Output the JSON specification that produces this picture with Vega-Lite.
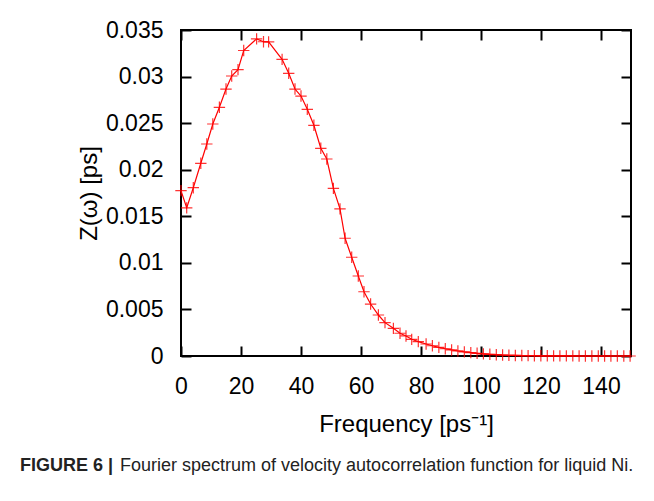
{
  "$schema": "https://vega.github.io/schema/vega-lite/v6.json",
  "width": 450,
  "height": 326,
  "autosize": {"type": "none"},
  "padding": {"left": 181, "top": 30, "right": 23, "bottom": 145},
  "background": "white",
  "config": {
    "view": {"stroke": "black", "strokeWidth": 2},
    "font": "Liberation Sans",
    "axis": {
      "domain": false,
      "grid": false,
      "labelFlush": false,
      "labelOverlap": false,
      "tickColor": "black",
      "tickWidth": 2,
      "tickSize": -10,
      "labelFont": "Liberation Sans",
      "labelFontSize": 23,
      "labelColor": "black",
      "titleFont": "Liberation Sans",
      "titleFontSize": 24,
      "titleFontWeight": "normal",
      "titleColor": "black"
    }
  },
  "title": {
    "text": "FIGURE 6 |",
    "subtitle": "\u200b\u00a0\u00a0\u00a0\u00a0\u00a0\u00a0\u00a0\u00a0\u00a0\u00a0\u00a0\u00a0\u00a0\u00a0\u00a0\u00a0\u00a0\u00a0\u00a0\u00a0Fourier spectrum of velocity autocorrelation function for liquid Ni.",
    "orient": "bottom",
    "anchor": "start",
    "frame": "group",
    "dx": -161,
    "font": "Liberation Sans",
    "fontSize": 18,
    "fontWeight": "bold",
    "color": "#222222",
    "subtitleFont": "Liberation Sans",
    "subtitleFontSize": 18,
    "subtitleFontWeight": "normal",
    "subtitleColor": "#222222",
    "subtitlePadding": -18,
    "offset": 21
  },
  "data": {
    "values": [
      {"f": 0.0, "z": 0.01775},
      {"f": 1.9, "z": 0.0159},
      {"f": 4.1, "z": 0.01807},
      {"f": 6.6, "z": 0.02069},
      {"f": 8.6, "z": 0.02276},
      {"f": 10.6, "z": 0.02491},
      {"f": 12.8, "z": 0.0267},
      {"f": 15.0, "z": 0.02866},
      {"f": 16.9, "z": 0.03006},
      {"f": 19.0, "z": 0.03075},
      {"f": 20.9, "z": 0.0328},
      {"f": 25.2, "z": 0.03405},
      {"f": 27.5, "z": 0.03374},
      {"f": 29.2, "z": 0.03372},
      {"f": 33.7, "z": 0.03185},
      {"f": 35.9, "z": 0.03035},
      {"f": 38.0, "z": 0.02866},
      {"f": 40.0, "z": 0.02791},
      {"f": 42.1, "z": 0.02648},
      {"f": 44.3, "z": 0.02477},
      {"f": 46.6, "z": 0.0223},
      {"f": 48.6, "z": 0.02115},
      {"f": 50.8, "z": 0.018},
      {"f": 53.0, "z": 0.0158},
      {"f": 54.7, "z": 0.01264},
      {"f": 56.9, "z": 0.0106},
      {"f": 59.1, "z": 0.00859},
      {"f": 61.0, "z": 0.0069},
      {"f": 63.2, "z": 0.00558},
      {"f": 65.8, "z": 0.0044},
      {"f": 68.0, "z": 0.00358},
      {"f": 70.8, "z": 0.00297},
      {"f": 73.0, "z": 0.00244},
      {"f": 75.0, "z": 0.00215},
      {"f": 76.9, "z": 0.00179},
      {"f": 79.1, "z": 0.00154},
      {"f": 81.7, "z": 0.00129},
      {"f": 83.8, "z": 0.0011},
      {"f": 85.95, "z": 0.00093},
      {"f": 88.1, "z": 0.00078},
      {"f": 90.2, "z": 0.00065},
      {"f": 92.3, "z": 0.00054},
      {"f": 94.45, "z": 0.00044},
      {"f": 96.6, "z": 0.00036},
      {"f": 98.7, "z": 0.00029},
      {"f": 100.8, "z": 0.00023},
      {"f": 102.95, "z": 0.00018},
      {"f": 105.1, "z": 0.00014},
      {"f": 107.2, "z": 0.00011},
      {"f": 109.3, "z": 0.00008},
      {"f": 111.45, "z": 0.00006},
      {"f": 113.6, "z": 0.00005},
      {"f": 115.7, "z": 0.00004},
      {"f": 117.8, "z": 0.00003},
      {"f": 119.95, "z": 0.00002},
      {"f": 122.1, "z": 0.00002},
      {"f": 124.2, "z": 0.00001},
      {"f": 126.3, "z": 0.00001},
      {"f": 128.45, "z": 0.00001},
      {"f": 130.6, "z": 0.00001},
      {"f": 132.7, "z": 0.0},
      {"f": 134.8, "z": 0.0},
      {"f": 136.95, "z": 0.0},
      {"f": 139.1, "z": 0.0},
      {"f": 141.2, "z": 0.0},
      {"f": 143.3, "z": 0.0},
      {"f": 145.45, "z": 0.0},
      {"f": 147.6, "z": 0.0},
      {"f": 149.7, "z": 0.0}
    ]
  },
  "layer": [
    {
      "mark": {"type": "line", "color": "#ff0000", "strokeWidth": 1.2, "clip": false},
      "encoding": {
        "x": {
          "field": "f", "type": "quantitative",
          "scale": {"domain": [0, 150], "nice": false, "zero": false},
          "axis": {
            "orient": "bottom",
            "values": [0, 20, 40, 60, 80, 100, 120, 140],
            "labelPadding": 29,
            "labelAngle": 0,
            "title": "Frequency [ps\u207b\u00b9]",
            "titlePadding": 14
          }
        },
        "y": {
          "field": "z", "type": "quantitative",
          "scale": {"domain": [0, 0.035], "nice": false, "zero": false},
          "axis": {
            "orient": "left",
            "values": [0, 0.005, 0.01, 0.015, 0.02, 0.025, 0.03, 0.035],
            "format": "~g",
            "labelPadding": 28,
            "title": "Z(\u03c9) [ps]",
            "titleAngle": 270,
            "titleAlign": "center",
            "titleBaseline": "middle",
            "titleX": -92,
            "titleY": 163
          }
        }
      }
    },
    {
      "mark": {
        "type": "point",
        "shape": "M-1,0H1M0,-1V1",
        "filled": false,
        "stroke": "#ff0000",
        "strokeWidth": 1.2,
        "opacity": 0.8,
        "size": 130,
        "clip": false
      },
      "encoding": {
        "x": {
          "field": "f", "type": "quantitative",
          "scale": {"domain": [0, 150], "nice": false, "zero": false},
          "axis": {
            "orient": "top",
            "values": [0, 20, 40, 60, 80, 100, 120, 140],
            "labels": false,
            "title": null
          }
        },
        "y": {
          "field": "z", "type": "quantitative",
          "scale": {"domain": [0, 0.035], "nice": false, "zero": false},
          "axis": {
            "orient": "right",
            "values": [0, 0.005, 0.01, 0.015, 0.02, 0.025, 0.03, 0.035],
            "labels": false,
            "title": null
          }
        }
      }
    }
  ],
  "resolve": {"axis": {"x": "independent", "y": "independent"}}
}
